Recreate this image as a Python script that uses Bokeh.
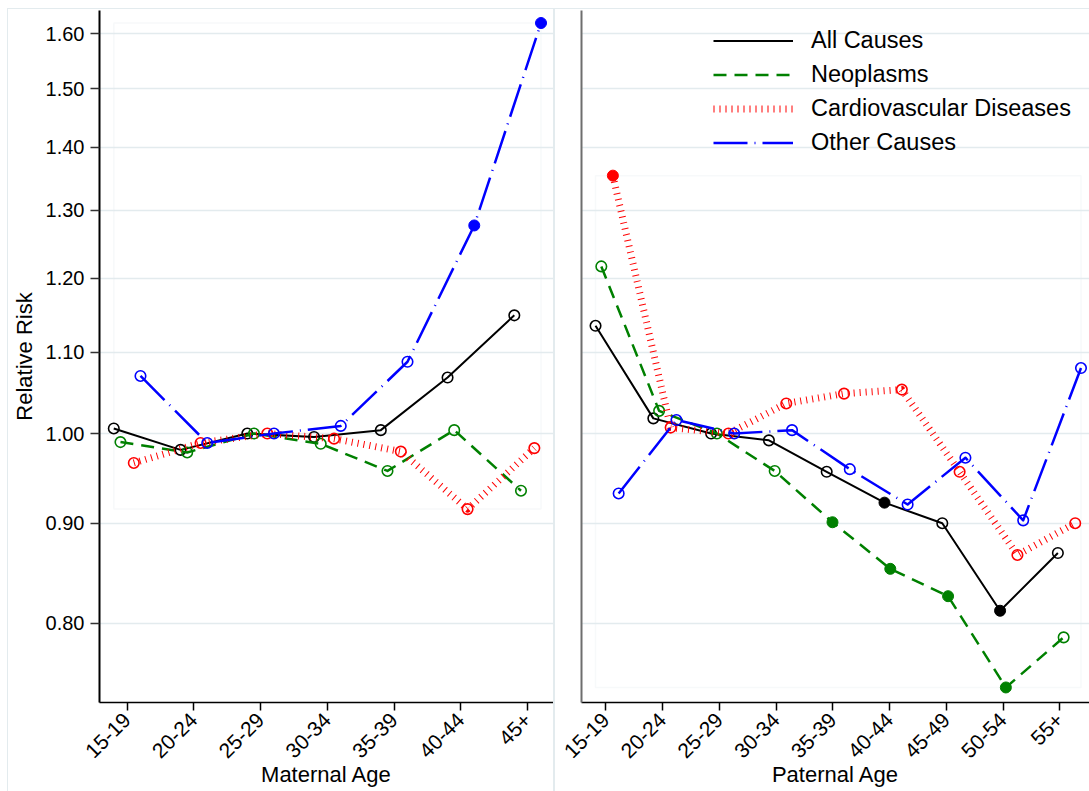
import math

from bokeh.embed import file_html
from bokeh.layouts import row
from bokeh.models import (BoxAnnotation, FixedTicker, Legend, LegendItem,
                          NumeralTickFormatter, Range1d)
from bokeh.plotting import figure
from bokeh.resources import INLINE

# Relative risk of death by parental age group (reference group 25-29)
maternal_ages = ["15-19", "20-24", "25-29", "30-34", "35-39", "40-44", "45+"]
paternal_ages = ["15-19", "20-24", "25-29", "30-34", "35-39", "40-44",
                 "45-49", "50-54", "55+"]

series_names = ["All Causes", "Neoplasms", "Cardiovascular Diseases", "Other Causes"]

maternal_all = [1.006, 0.981, 1.000, 0.996, 1.004, 1.068, 1.149]
maternal_neo = [0.990, 0.978, 1.000, 0.988, 0.957, 1.004, 0.935]
maternal_cvd = [0.966, 0.989, 1.000, 0.994, 0.979, 0.915, 0.983]
maternal_oth = [1.070, 0.989, 1.000, 1.009, 1.088, 1.277, 1.620]

paternal_all = [1.135, 1.018, 1.000, 0.992, 0.956, 0.922, 0.900, 0.812, 0.869]
paternal_neo = [1.217, 1.027, 1.000, 0.957, 0.901, 0.853, 0.826, 0.742, 0.787]
paternal_cvd = [1.354, 1.007, 1.000, 1.036, 1.048, 1.053, 0.956, 0.867, 0.900]
paternal_oth = [0.932, 1.016, 1.000, 1.004, 0.959, 0.920, 0.972, 0.903, 1.080]

# statistically significant estimates (solid markers)
maternal_all_sig = [False, False, False, False, False, False, False]
maternal_neo_sig = [False, False, False, False, False, False, False]
maternal_cvd_sig = [False, False, False, False, False, False, False]
maternal_oth_sig = [False, False, False, False, False, True, True]

paternal_all_sig = [False, False, False, False, False, True, False, True, False]
paternal_neo_sig = [False, False, False, False, True, True, True, True, False]
paternal_cvd_sig = [True, False, False, False, False, False, False, False, False]
paternal_oth_sig = [False, False, False, False, False, False, False, False, False]

y_ticks = [0.80, 0.90, 1.00, 1.10, 1.20, 1.30, 1.40, 1.50, 1.60]

FONT = "Liberation Sans"
LIGHT = "#e3ebee"

# line style and horizontal nudge of each cause so the markers don't overlap
STYLES = [
    dict(color="black", dash="solid", width=2.0, nudge=-0.2),
    dict(color="#008000", dash="13 8", width=2.5, nudge=-0.1),
    dict(color="#ff0000", dash="1 5", width=7.0, nudge=0.1),
    dict(color="#0000ff", dash="34 7 1 7", width=2.5, nudge=0.2),
]


def make_panel(ages, values, sig, x_range, pitch, shift, width, border_left,
               title, show_y):
    p = figure(width=width, height=782, output_backend="svg",
               toolbar_location=None, y_axis_type="log",
               x_range=Range1d(*x_range), y_range=Range1d(0.729, 1.644),
               min_border_left=border_left, min_border_right=0,
               min_border_top=1, min_border_bottom=89)
    p.outline_line_color = None
    p.background_fill_color = "white"
    p.border_fill_color = "white"

    # category axis below
    xa = p.xaxis[0]
    xa.ticker = FixedTicker(ticks=list(range(len(ages))))
    xa.major_label_overrides = {i: a for i, a in enumerate(ages)}
    xa.major_label_orientation = math.pi / 4
    xa.major_label_text_font = FONT
    xa.major_label_text_font_size = "21px"
    xa.major_label_text_color = "black"
    xa.major_label_standoff = 6
    xa.major_tick_in = 0
    xa.major_tick_out = 8
    xa.major_tick_line_width = 1.5
    xa.minor_tick_line_color = None
    xa.axis_line_width = 1.5
    xa.axis_label = title
    xa.axis_label_text_font = FONT
    xa.axis_label_text_font_size = "22px"
    xa.axis_label_text_font_style = "normal"
    xa.axis_label_text_color = "black"
    xa.axis_label_standoff = -5

    ya = p.yaxis[0]
    ya.minor_tick_line_color = None
    if show_y:
        ya.ticker = FixedTicker(ticks=y_ticks)
        ya.formatter = NumeralTickFormatter(format="0.00")
        ya.major_label_text_font = FONT
        ya.major_label_text_font_size = "20px"
        ya.major_label_text_color = "black"
        ya.major_label_standoff = 6
        ya.major_tick_in = 0
        ya.major_tick_out = 9
        ya.major_tick_line_width = 1.5
        ya.major_tick_line_color = "#333333"
        ya.axis_line_width = 2
        ya.axis_label = "Relative Risk"
        ya.axis_label_text_font = FONT
        ya.axis_label_text_font_size = "22px"
        ya.axis_label_text_font_style = "normal"
        ya.axis_label_text_color = "black"
        ya.axis_label_standoff = 6
    else:
        ya.ticker = FixedTicker(ticks=[])
        ya.axis_line_color = "#6e6e6e"
        ya.axis_line_width = 2
        ya.major_tick_line_color = None

    p.xgrid.visible = False
    p.ygrid.ticker = FixedTicker(ticks=y_ticks)
    p.ygrid.grid_line_color = LIGHT
    p.ygrid.grid_line_width = 1.5

    # inner plot-region box spanning the data
    xs_all = []
    for s in STYLES:
        xs_all += [shift + pitch * (i + s["nudge"]) for i in range(len(ages))]
    all_vals = [v for vals in values for v in vals]
    p.add_layout(BoxAnnotation(left=min(xs_all), right=max(xs_all),
                               bottom=min(all_vals), top=max(all_vals),
                               fill_alpha=0, line_color=LIGHT, line_width=1.5,
                               level="underlay"))

    line_renderers = []
    for s, vals, flags in zip(STYLES, values, sig):
        xs = [shift + pitch * (i + s["nudge"]) for i in range(len(ages))]
        r = p.line(xs, vals, line_color=s["color"], line_width=s["width"],
                   line_dash=s["dash"], line_cap="butt", line_join="round")
        line_renderers.append(r)
        hx = [x for x, f in zip(xs, flags) if not f]
        hy = [v for v, f in zip(vals, flags) if not f]
        fx = [x for x, f in zip(xs, flags) if f]
        fy = [v for v, f in zip(vals, flags) if f]
        p.scatter(hx, hy, marker="circle", size=10.5, fill_alpha=0,
                  line_color=s["color"], line_width=1.6)
        if fx:
            p.scatter(fx, fy, marker="circle", size=11, fill_color=s["color"],
                      line_color=s["color"], line_width=1)
    return p, line_renderers


left, _ = make_panel(
    maternal_ages,
    [maternal_all, maternal_neo, maternal_cvd, maternal_oth],
    [maternal_all_sig, maternal_neo_sig, maternal_cvd_sig, maternal_oth_sig],
    x_range=(-0.414, 6.387), pitch=1.0, shift=0.0,
    width=545, border_left=90, title="Maternal Age", show_y=True)

right, lines = make_panel(
    paternal_ages,
    [paternal_all, paternal_neo, paternal_cvd, paternal_oth],
    [paternal_all_sig, paternal_neo_sig, paternal_cvd_sig, paternal_oth_sig],
    x_range=(-0.428, 8.523), pitch=1.0183, shift=0.023,
    width=534, border_left=26, title="Paternal Age", show_y=False)

legend = Legend(
    items=[LegendItem(label=n, renderers=[r]) for n, r in zip(series_names, lines)],
    location=(132, 546), orientation="vertical",
    border_line_alpha=0, background_fill_alpha=0, padding=0, margin=0,
    spacing=7, glyph_width=80, glyph_height=27, label_height=27,
    label_standoff=18, label_text_font=FONT, label_text_font_size="23.5px",
    label_text_color="black")
right.add_layout(legend)

left.margin = (9, 0, 0, 8)
right.margin = (9, 0, 0, 2)
left.styles = {"outline": "1px solid " + LIGHT}
right.styles = {"outline": "1px solid " + LIGHT}

layout = row(left, right)

with open("out.html", "w") as f:
    f.write(file_html(layout, INLINE))
